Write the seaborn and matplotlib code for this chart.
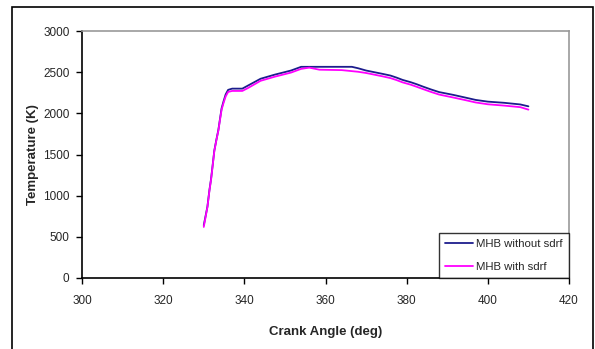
import matplotlib
matplotlib.use("Agg")
import matplotlib.pyplot as plt
import seaborn as sns
import pandas as pd
from matplotlib.patches import Rectangle

# Data
angle_without = [330, 330.9, 331.4, 331.8, 332.2, 332.6, 333.1, 333.6, 334.0, 334.4,
                 334.9, 335.4, 336.0, 337, 339.5, 341, 344, 347.5, 351.5, 354,
                 366.5, 368, 370, 372, 374, 376, 377.5, 379, 381, 382.5,
                 384, 386, 388, 391.5, 394.5, 397, 400, 404, 408, 410]
temp_without = [640, 866, 1069, 1203, 1373, 1547, 1677, 1798, 1932, 2062,
                2150, 2230, 2285, 2300, 2300, 2340, 2420, 2470, 2520, 2565,
                2565, 2548, 2520, 2500, 2480, 2459, 2434, 2406, 2378, 2353,
                2325, 2290, 2258, 2224, 2191, 2163, 2142, 2128, 2108, 2085]

angle_with = [330, 330.9, 331.4, 331.8, 332.2, 332.6, 333.1, 333.6, 334.0, 334.4,
              334.9, 335.4, 336.0, 337, 339.5, 341, 344, 347.5, 351.5, 354,
              356, 358.5, 364, 368, 370, 372, 374, 376, 377.5, 379,
              381, 382.5, 384, 386, 388, 391.5, 394.5, 397, 400, 404, 408, 410]
temp_with = [620, 860, 1060, 1195, 1365, 1540, 1670, 1790, 1920, 2045,
             2130, 2205, 2260, 2272, 2272, 2310, 2395, 2445, 2495, 2540,
             2555, 2530, 2525, 2505, 2490, 2470, 2450, 2428, 2404, 2376,
             2348, 2322, 2295, 2260, 2228, 2192, 2160, 2132, 2110, 2094, 2075, 2045]

series_names = ["MHB without sdrf", "MHB with sdrf"]
x_ticks = [300, 320, 340, 360, 380, 400, 420]
y_ticks = [0, 500, 1000, 1500, 2000, 2500, 3000]

df = pd.concat([
    pd.DataFrame({"angle": angle_without, "temp": temp_without, "series": series_names[0]}),
    pd.DataFrame({"angle": angle_with, "temp": temp_with, "series": series_names[1]}),
], ignore_index=True)

sns.set_theme(style="white")
plt.rcParams['font.family'] = ['Liberation Sans', 'DejaVu Sans']

fig = plt.figure(figsize=(5.95, 3.49), dpi=100)
ax = fig.add_axes([82/595, 1 - 278/349, (569 - 82)/595, (278 - 31)/349])

sns.lineplot(data=df, x="angle", y="temp", hue="series", hue_order=series_names,
             palette={series_names[0]: "#1c1c8c", series_names[1]: "#ff00ff"},
             linewidth=1.3, sort=False, estimator=None, ax=ax)

ax.set_xlim(300, 420)
ax.set_ylim(0, 3000)
ax.set_xticks(x_ticks)
ax.set_yticks(y_ticks)
ax.tick_params(axis="both", labelsize=8.5, length=4, width=1, color="black",
               direction="out", bottom=True, left=True, pad=5)
ax.tick_params(axis="x", pad=8)

for side in ["top", "right"]:
    ax.spines[side].set_color("#999999")
    ax.spines[side].set_linewidth(1.2)
for side in ["left", "bottom"]:
    ax.spines[side].set_color("black")
    ax.spines[side].set_linewidth(1.2)

ax.set_xlabel("Crank Angle (deg)", fontsize=9.5, fontweight="bold", labelpad=14)
ax.set_ylabel("Temperature (K)", fontsize=9.5, fontweight="bold", labelpad=3)

leg = ax.legend(loc="lower right", fontsize=8.2, frameon=True, fancybox=False,
                borderaxespad=0, handlelength=2.4, borderpad=0.55, labelspacing=1.1,
                handletextpad=0.3)
leg.get_frame().set_edgecolor("black")
leg.get_frame().set_linewidth(1)

fig.patches.append(Rectangle((12/595, -0.05), (593 - 12)/595, 1 - 7/349 + 0.05,
                             transform=fig.transFigure, fill=False,
                             edgecolor="black", linewidth=1.2))

fig.savefig("out.png", dpi=100)
